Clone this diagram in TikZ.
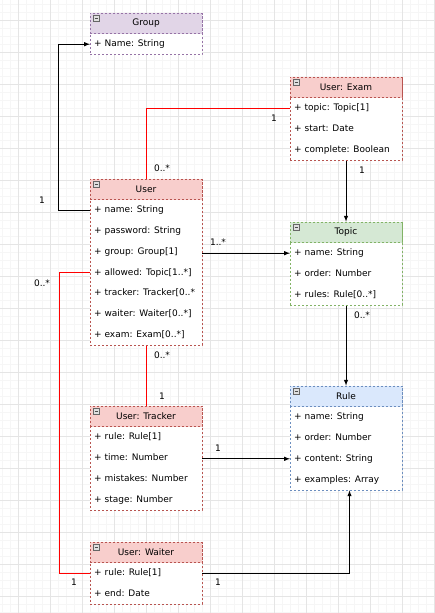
\documentclass[tikz,border=0pt]{standalone}
\usepackage{fontspec}
\setmainfont{DejaVu Sans}
\usepackage{xcolor}
\definecolor{groupfill}{HTML}{E1D5E7}
\definecolor{groupline}{HTML}{9673A6}
\definecolor{userfill}{HTML}{F8CECC}
\definecolor{userline}{HTML}{B85450}
\definecolor{topicfill}{HTML}{D5E8D4}
\definecolor{topicline}{HTML}{82B366}
\definecolor{rulefill}{HTML}{DAE8FC}
\definecolor{ruleline}{HTML}{6C8EBF}
\definecolor{assocred}{HTML}{FF0000}

\begin{document}
\begin{tikzpicture}[x=1pt, y=-1pt, >=latex, font=\fontsize{9}{11}\selectfont]
    % Define class shapes
    \tikzstyle{classbox}=[draw, dash pattern=on 2pt off 2pt, rectangle, minimum width=112pt, fill=white, inner sep=0pt, line width=0.8pt]
    \tikzstyle{classhead}=[draw, dash pattern=on 2pt off 2pt, rectangle, minimum width=112pt, minimum height=20.8pt, inner sep=0pt, line width=0.8pt]
    \tikzstyle{attr}=[anchor=west, inner xsep=4pt, inner ysep=0pt, text height=7pt, text depth=2pt]
    \tikzstyle{mult}=[inner sep=0pt, text height=7pt, text depth=0pt]
    \tikzstyle{link}=[line width=1pt, black]
    \tikzstyle{assoc}=[line width=1pt, assocred]
    \tikzstyle{collapse}=[draw=gray!80!black, fill=gray!25, rectangle, minimum size=6pt, inner sep=0pt, line width=0.5pt,
        path picture={\draw[black!70, line width=0.6pt] ([xshift=1.2pt]path picture bounding box.west) -- ([xshift=-1.2pt]path picture bounding box.east);}]

    % Background grid
    \fill[white] (0,0) rectangle (435,613);
    \useasboundingbox (0,0) rectangle (435,613);
    \foreach \x in {2,10,...,434} \draw[gray!7, line width=0.6pt] (\x,0) -- (\x,613);
    \foreach \y in {4,12,...,612} \draw[gray!7, line width=0.6pt] (0,\y) -- (435,\y);
    \foreach \x in {18,50,...,434} \draw[gray!20, line width=0.8pt] (\x,0) -- (\x,613);
    \foreach \y in {20,52,...,612} \draw[gray!20, line width=0.8pt] (0,\y) -- (435,\y);

    % Group
    \node[classbox, draw=groupline, minimum height=41.6pt] (group) at (146,33.8) {};
    \node[classhead, fill=groupfill, draw=groupline] (grouphead) at (146,23.4) {Group};
    \node[attr] (group1) at (90,44.2) {+ Name: String};

    % User
    \node[classbox, draw=userline, minimum height=166.4pt] (user) at (146,262.2) {};
    \node[classhead, fill=userfill, draw=userline] (userhead) at (146,189.4) {User};
    \node[attr] (user1) at (90,210.2) {+ name: String};
    \node[attr] (user2) at (90,231) {+ password: String};
    \node[attr] (user3) at (90,251.8) {+ group: Group[1]};
    \node[attr] (user4) at (90,272.6) {+ allowed: Topic[1..*]};
    \node[attr] (user5) at (90,293.4) {+ tracker: Tracker[0..*};
    \node[attr] (user6) at (90,314.2) {+ waiter: Waiter[0..*]};
    \node[attr] (user7) at (90,335) {+ exam: Exam[0..*]};

    % User: Exam
    \node[classbox, draw=userline, minimum height=83.2pt] (exam) at (346,118.6) {};
    \node[classhead, fill=userfill, draw=userline] (examhead) at (346,87.4) {User: Exam};
    \node[attr] (exam1) at (290,108.2) {+ topic: Topic[1]};
    \node[attr] (exam2) at (290,129) {+ start: Date};
    \node[attr] (exam3) at (290,149.8) {+ complete: Boolean};

    % Topic
    \node[classbox, draw=topicline, minimum height=83.2pt] (topic) at (346,263.6) {};
    \node[classhead, fill=topicfill, draw=topicline] (topichead) at (346,232.4) {Topic};
    \node[attr] (topic1) at (290,253.2) {+ name: String};
    \node[attr] (topic2) at (290,274) {+ order: Number};
    \node[attr] (topic3) at (290,294.8) {+ rules: Rule[0..*]};

    % Rule
    \node[classbox, draw=ruleline, minimum height=104pt] (rule) at (346,438) {};
    \node[classhead, fill=rulefill, draw=ruleline] (rulehead) at (346,396.4) {Rule};
    \node[attr] (rule1) at (290,417.2) {+ name: String};
    \node[attr] (rule2) at (290,438) {+ order: Number};
    \node[attr] (rule3) at (290,458.8) {+ content: String};
    \node[attr] (rule4) at (290,479.6) {+ examples: Array};

    % User: Tracker
    \node[classbox, draw=userline, minimum height=104pt] (tracker) at (146,458) {};
    \node[classhead, fill=userfill, draw=userline] (trackerhead) at (146,416.4) {User: Tracker};
    \node[attr] (tracker1) at (90,437.2) {+ rule: Rule[1]};
    \node[attr] (tracker2) at (90,458) {+ time: Number};
    \node[attr] (tracker3) at (90,478.8) {+ mistakes: Number};
    \node[attr] (tracker4) at (90,499.6) {+ stage: Number};

    % User: Waiter
    \node[classbox, draw=userline, minimum height=62.4pt] (waiter) at (146,573.2) {};
    \node[classhead, fill=userfill, draw=userline] (waiterhead) at (146,552.4) {User: Waiter};
    \node[attr] (waiter1) at (90,573.2) {+ rule: Rule[1]};
    \node[attr] (waiter2) at (90,594) {+ end: Date};

    % Collapse icons
    \foreach \h in {grouphead,userhead,examhead,topichead,rulehead,trackerhead,waiterhead}
        \node[collapse] at ([shift={(7,6)}]\h.north west) {};

    % Connect classes
    \draw[link, ->] (user1.west) -- ++(-32,0) |- (group1.west);
    \draw[assoc] (user.north) |- (exam1.west);
    \draw[link, ->] (exam.south) -- (topic.north);
    \draw[link, ->] (user.east |- topic1) -- (topic1.west);
    \draw[link, ->] (topic.south) -- (rule.north);
    \draw[assoc] (user.south) -- (tracker.north);
    \draw[assoc] (user4.west) -- ++(-31,0) |- (waiter1.west);
    \draw[link, ->] (tracker.east |- rule3) -- (rule3.west);
    \draw[link, ->] (waiter.east |- waiter1) -| ([xshift=3.5pt]rule.south);

    % Multiplicity labels
    \node[mult] (m1) at (42,200) {1};
    \node[mult] (m2) at (162,168) {0..*};
    \node[mult] (m3) at (274,118) {1};
    \node[mult] (m4) at (362,170) {1};
    \node[mult] (m5) at (218,242) {1..*};
    \node[mult] (m6) at (362,315) {0..*};
    \node[mult] (m7) at (162,355) {0..*};
    \node[mult] (m8) at (162,396) {1};
    \node[mult] (m9) at (42,283) {0..*};
    \node[mult] (m10) at (74,582) {1};
    \node[mult] (m11) at (218,448) {1};
    \node[mult] (m12) at (218,582) {1};
\end{tikzpicture}
\end{document}
